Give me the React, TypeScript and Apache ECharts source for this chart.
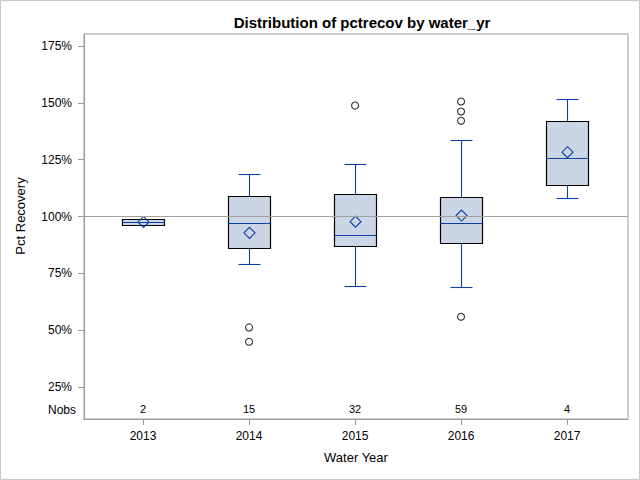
import React, { useEffect, useRef } from "react";
import * as echarts from "echarts";

const years = ["2013", "2014", "2015", "2016", "2017"];
const nobs = [2, 15, 32, 59, 4];
const whiskerLow = [0.963, 0.792, 0.695, 0.691, 1.082];
const q1 = [0.963, 0.862, 0.868, 0.884, 1.139];
const median = [0.976, 0.972, 0.919, 0.972, 1.258];
const q3 = [0.99, 1.088, 1.1, 1.087, 1.421];
const whiskerHigh = [0.99, 1.188, 1.232, 1.337, 1.518];
const mean = [0.976, 0.928, 0.977, 1.004, 1.283];
const outliers: [number, number][] = [
  [1, 0.512],
  [1, 0.449],
  [2, 1.488],
  [3, 1.506],
  [3, 1.462],
  [3, 1.421],
  [3, 0.559],
];
const yTicks = [0.25, 0.5, 0.75, 1.0, 1.25, 1.5, 1.75];
const nobsRowValue = 0.151;

const BLUE = "#0E3FA6";
const FILL = "#CAD5E5";
const FRAME = "#9A9A9A";
const FONT = "Liberation Sans, Arial, sans-serif";

const snap = (v: number) => Math.round(v) + 0.5;

export default function App() {
  const ref = useRef<HTMLDivElement>(null);
  useEffect(() => {
    if (!ref.current) return;
    const chart = echarts.init(ref.current, undefined, { renderer: "svg" });
    const boxData = years.map((_, i) => [
      i,
      whiskerLow[i],
      q1[i],
      median[i],
      q3[i],
      whiskerHigh[i],
      mean[i],
    ]);
    const option: any = {
      animation: false,
      backgroundColor: "#fff",
      textStyle: { fontFamily: FONT },
      title: {
        text: "Distribution of pctrecov by water_yr",
        left: 357,
        top: 10,
        textAlign: "center",
        textStyle: { fontFamily: FONT, fontSize: 15, fontWeight: "bold", color: "#000" },
      },
      grid: {
        left: 84,
        right: 12,
        top: 34,
        bottom: 61,
        show: true,
        borderColor: FRAME,
        borderWidth: 1,
        backgroundColor: "transparent",
      },
      xAxis: {
        type: "value",
        min: -0.557,
        max: 4.575,
        name: "Water Year",
        nameLocation: "middle",
        nameGap: 32,
        nameTextStyle: { fontFamily: FONT, fontSize: 13, color: "#000" },
        axisLine: { show: true, onZero: false, lineStyle: { color: FRAME } },
        axisTick: {
          show: true,
          length: 6,
          customValues: [0, 1, 2, 3, 4],
          lineStyle: { color: FRAME },
        },
        axisLabel: {
          customValues: [0, 1, 2, 3, 4],
          formatter: (v: number) => years[Math.round(v)] ?? "",
          margin: 11,
          fontFamily: FONT,
          fontSize: 12,
          color: "#000",
        },
        splitLine: { show: false },
      },
      yAxis: {
        type: "value",
        min: 0.109,
        max: 1.803,
        axisLine: { show: true, onZero: false, lineStyle: { color: FRAME } },
        axisTick: {
          show: true,
          length: 6,
          customValues: yTicks,
          lineStyle: { color: FRAME },
        },
        axisLabel: {
          customValues: yTicks,
          formatter: (v: number) => Math.round(v * 100) + "%",
          margin: 12,
          fontFamily: FONT,
          fontSize: 12,
          color: "#000",
        },
        splitLine: { show: false },
      },
      graphic: [
        {
          type: "rect",
          shape: { x: 0.5, y: 0.5, width: 639, height: 479 },
          style: { fill: "none", stroke: "#C8C8C8", lineWidth: 1 },
          silent: true,
          z: 100,
        },
        {
          type: "text",
          x: 20,
          y: 216,
          rotation: Math.PI / 2,
          style: {
            text: "Pct Recovery",
            fontFamily: FONT,
            fontSize: 13,
            fill: "#000",
            textAlign: "center",
            textVerticalAlign: "middle",
          },
        },
        {
          type: "text",
          x: 76,
          y: 410,
          style: {
            text: "Nobs",
            fontFamily: FONT,
            fontSize: 12,
            fill: "#000",
            textAlign: "right",
            textVerticalAlign: "middle",
          },
        },
      ],
      series: [
        {
          type: "custom",
          z: 2,
          data: boxData,
          renderItem: (params: any, api: any) => {
            const i = api.value(0);
            const pLow = api.coord([i, api.value(1)]);
            const pQ1 = api.coord([i, api.value(2)]);
            const pMed = api.coord([i, api.value(3)]);
            const pQ3 = api.coord([i, api.value(4)]);
            const pHigh = api.coord([i, api.value(5)]);
            const pMean = api.coord([i, api.value(6)]);
            const cx = snap(pLow[0]);
            const yLow = snap(pLow[1]);
            const yQ1 = snap(pQ1[1]);
            const yMed = snap(pMed[1]);
            const yQ3 = snap(pQ3[1]);
            const yHigh = snap(pHigh[1]);
            const bw = 42;
            const cw = 22;
            const d = 5.5;
            const ls = { stroke: BLUE, lineWidth: 1.1 };
            const children: any[] = [];
            if (yLow - yQ1 > 0.5) {
              children.push({ type: "line", shape: { x1: cx, y1: yQ1, x2: cx, y2: yLow }, style: ls });
              children.push({ type: "line", shape: { x1: cx - cw / 2, y1: yLow, x2: cx + cw / 2, y2: yLow }, style: ls });
            }
            if (yQ3 - yHigh > 0.5) {
              children.push({ type: "line", shape: { x1: cx, y1: yHigh, x2: cx, y2: yQ3 }, style: ls });
              children.push({ type: "line", shape: { x1: cx - cw / 2, y1: yHigh, x2: cx + cw / 2, y2: yHigh }, style: ls });
            }
            children.push({
              type: "rect",
              shape: { x: cx - bw / 2, y: yQ3, width: bw, height: Math.max(yQ1 - yQ3, 1) },
              style: { fill: FILL, stroke: "#000", lineWidth: 1.2 },
            });
            children.push({
              type: "line",
              shape: { x1: cx - bw / 2, y1: yMed, x2: cx + bw / 2, y2: yMed },
              style: ls,
            });
            children.push({
              type: "polygon",
              shape: {
                points: [
                  [cx, pMean[1] - d],
                  [cx + d, pMean[1]],
                  [cx, pMean[1] + d],
                  [cx - d, pMean[1]],
                ],
              },
              style: { fill: "none", stroke: BLUE, lineWidth: 1.1 },
            });
            return { type: "group", children };
          },
        },
        {
          type: "scatter",
          z: 3,
          data: outliers,
          symbol: "circle",
          symbolSize: 7,
          itemStyle: { color: "rgba(255,255,255,0)", borderColor: "#000", borderWidth: 1.1 },
          markLine: {
            silent: true,
            symbol: "none",
            label: { show: false },
            lineStyle: { color: "#A0A0A0", type: "solid", width: 1 },
            data: [{ yAxis: 1 }],
          },
        },
        {
          type: "custom",
          z: 3,
          data: nobs.map((n, i) => [i, nobsRowValue, n]),
          renderItem: (params: any, api: any) => {
            const p = api.coord([api.value(0), api.value(1)]);
            return {
              type: "text",
              x: p[0],
              y: p[1],
              style: {
                text: String(api.value(2)),
                fontFamily: FONT,
                fontSize: 11,
                fill: "#000",
                textAlign: "center",
                textVerticalAlign: "middle",
              },
            };
          },
        },
      ],
    };
    chart.setOption(option);
    return () => chart.dispose();
  }, []);
  return (
    <div
      ref={ref}
      style={{ position: "absolute", left: 0, top: 0, width: 640, height: 480 }}
    />
  );
}
